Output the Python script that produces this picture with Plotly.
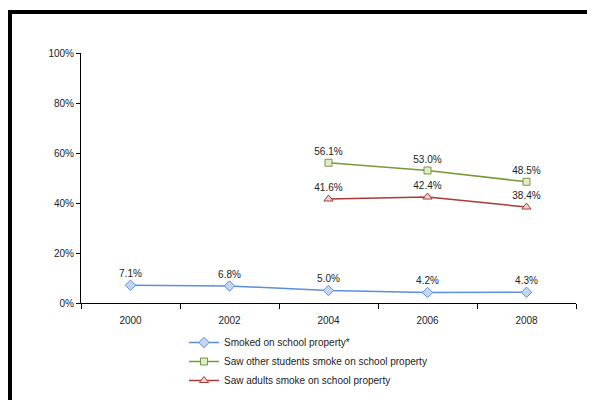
import plotly.graph_objects as go

years = ["2000", "2002", "2004", "2006", "2008"]
smoked = [7.1, 6.8, 5.0, 4.2, 4.3]
saw_students = [None, None, 56.1, 53.0, 48.5]
saw_adults = [None, None, 41.6, 42.4, 38.4]
names = ["Smoked on school property*",
         "Saw other students smoke on school property",
         "Saw adults smoke on school property"]
y_ticks = [0, 20, 40, 60, 80, 100]
y_tick_labels = [f"{v}%" for v in y_ticks]

def lab(v):
    return ["" if x is None else f"{x:.1f}%" for x in v]

FONT = "Liberation Sans, Arial, sans-serif"
fig = go.Figure()
specs = [
    (smoked, names[0], "#5B8FD9", "#C5D7F0", "diamond", 8),
    (saw_students, names[1], "#77993A", "#E2EBCF", "square", 7),
    (saw_adults, names[2], "#A83A38", "#F5D5D4", "triangle-up", 8),
]
for vals, nm, lc, fc, sym, sz in specs:
    fig.add_trace(go.Scatter(
        x=years, y=vals, name=nm, mode="lines+markers+text",
        text=lab(vals), textposition="top center",
        textfont=dict(family=FONT, size=10, color="#222"),
        line=dict(color=lc, width=1.5),
        marker=dict(symbol=sym, size=sz, color=fc, line=dict(color=lc, width=1)),
        cliponaxis=False,
    ))

OFF = 8  # page body margin in the browser
L, R, T, B = 81 - OFF, 576 - OFF, 53 - OFF, 303 - OFF
W, H = 595 - OFF, 400 - OFF
def px(x): return (x - OFF - L) / (R - L)
def py(y): return (B - (y - OFF)) / (B - T)
def cy(y): return 1 - (y - OFF) / H

fig.update_layout(
    width=W, height=H,
    margin=dict(l=L, r=W - R, t=T, b=H - B),
    paper_bgcolor="white", plot_bgcolor="white",
    font=dict(family=FONT, size=10, color="#222"),
    showlegend=True,
    legend=dict(xref="paper", yref="container",
                x=px(184), y=cy(328), xanchor="left", yanchor="top",
                font=dict(size=10), tracegroupgap=0,
                bgcolor="rgba(0,0,0,0)"),
    xaxis=dict(type="category", range=[-0.5, 4.5], showline=True,
               linecolor="black", linewidth=1, ticks="outside", ticklen=5,
               tickson="boundaries", tickcolor="black", showgrid=False,
               tickfont=dict(size=10), ticklabelstandoff=8, automargin=False),
    yaxis=dict(range=[0, 100], tickvals=y_ticks, ticktext=y_tick_labels,
               showline=True, linecolor="black", linewidth=1,
               ticks="outside", ticklen=4, tickcolor="black",
               showgrid=False, zeroline=False, tickfont=dict(size=10),
               automargin=False),
    shapes=[
        dict(type="line", xref="paper", yref="paper",
             x0=px(8), x1=px(610), y0=py(12), y1=py(12),
             line=dict(color="black", width=4)),
        dict(type="line", xref="paper", yref="paper",
             x0=px(10), x1=px(10), y0=py(10), y1=py(410),
             line=dict(color="black", width=4)),
    ],
)
fig.write_html("out.html")
